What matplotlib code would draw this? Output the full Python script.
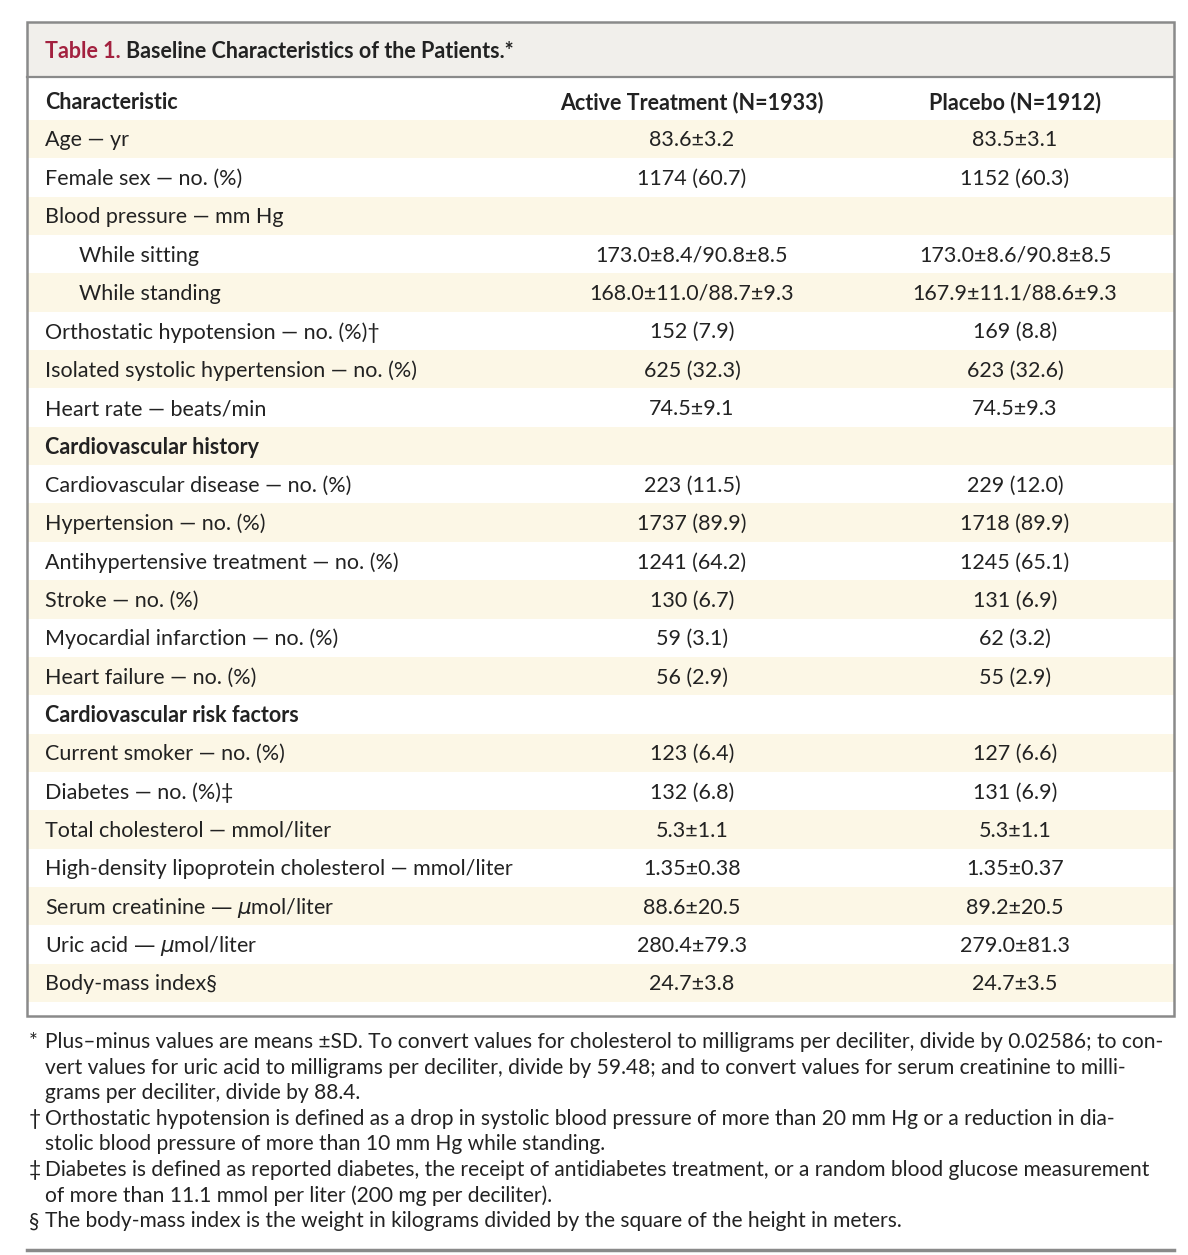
import matplotlib
matplotlib.use("Agg")
import matplotlib.pyplot as plt
from matplotlib.patches import Rectangle
from matplotlib import font_manager

W, H = 1188, 1255

# ---- table content ----
TITLE_NUM = "Table 1."
TITLE_TEXT = "Baseline Characteristics of the Patients.*"
HEADERS = ["Characteristic", "Active Treatment (N=1933)", "Placebo (N=1912)"]

labels = [
    "Age — yr",
    "Female sex — no. (%)",
    "Blood pressure — mm Hg",
    "While sitting",
    "While standing",
    "Orthostatic hypotension — no. (%)†",
    "Isolated systolic hypertension — no. (%)",
    "Heart rate — beats/min",
    "Cardiovascular history",
    "Cardiovascular disease — no. (%)",
    "Hypertension — no. (%)",
    "Antihypertensive treatment — no. (%)",
    "Stroke — no. (%)",
    "Myocardial infarction — no. (%)",
    "Heart failure — no. (%)",
    "Cardiovascular risk factors",
    "Current smoker — no. (%)",
    "Diabetes — no. (%)‡",
    "Total cholesterol — mmol/liter",
    "High-density lipoprotein cholesterol — mmol/liter",
    "Serum creatinine — $\\mu$mol/liter",
    "Uric acid — $\\mu$mol/liter",
    "Body-mass index§",
]
active = [
    "83.6±3.2", "1174 (60.7)", "", "173.0±8.4/90.8±8.5", "168.0±11.0/88.7±9.3",
    "152 (7.9)", "625 (32.3)", "74.5±9.1", "", "223 (11.5)", "1737 (89.9)",
    "1241 (64.2)", "130 (6.7)", "59 (3.1)", "56 (2.9)", "", "123 (6.4)",
    "132 (6.8)", "5.3±1.1", "1.35±0.38", "88.6±20.5", "280.4±79.3", "24.7±3.8",
]
placebo = [
    "83.5±3.1", "1152 (60.3)", "", "173.0±8.6/90.8±8.5", "167.9±11.1/88.6±9.3",
    "169 (8.8)", "623 (32.6)", "74.5±9.3", "", "229 (12.0)", "1718 (89.9)",
    "1245 (65.1)", "131 (6.9)", "62 (3.2)", "55 (2.9)", "", "127 (6.6)",
    "131 (6.9)", "5.3±1.1", "1.35±0.37", "89.2±20.5", "279.0±81.3", "24.7±3.5",
]
indented = {"While sitting", "While standing"}
section_rows = {"Cardiovascular history", "Cardiovascular risk factors"}

footnotes = [
    ("*", ["Plus–minus values are means ±SD. To convert values for cholesterol to milligrams per deciliter, divide by 0.02586; to con-",
           "vert values for uric acid to milligrams per deciliter, divide by 59.48; and to convert values for serum creatinine to milli-",
           "grams per deciliter, divide by 88.4."]),
    ("†", ["Orthostatic hypotension is defined as a drop in systolic blood pressure of more than 20 mm Hg or a reduction in dia-",
           "stolic blood pressure of more than 10 mm Hg while standing."]),
    ("‡", ["Diabetes is defined as reported diabetes, the receipt of antidiabetes treatment, or a random blood glucose measurement",
           "of more than 11.1 mmol per liter (200 mg per deciliter)."]),
    ("§", ["The body-mass index is the weight in kilograms divided by the square of the height in meters."]),
]

# ---- fonts ----
avail = {f.name for f in font_manager.fontManager.ttflist}
main_font = next((f for f in ["Lato", "Open Sans"] if f in avail), "DejaVu Sans")
plt.rcParams["font.family"] = [main_font, "DejaVu Sans"]
plt.rcParams["mathtext.fontset"] = "dejavusans"

TXT = "#222222"
STRIPE = "#fcf7e6"
TITLE_BG = "#f1efeb"
BORDER = "#8a8a8a"

fig = plt.figure(figsize=(W / 100, H / 100), dpi=100)
ax = fig.add_axes([0, 0, 1, 1])
ax.set_xlim(0, W)
ax.set_ylim(H, 0)
ax.axis("off")

left, right, top, bottom = 27, 1174, 22, 1016
title_h = 55
row_h = 38.36
first_row = 139
c1, c2 = 692, 1015
fs = 15.5
dy = 1.5  # text baseline nudge

# title band
ax.add_patch(Rectangle((left, top), right - left, title_h, facecolor=TITLE_BG, edgecolor="none"))
ax.plot([left, right], [top + title_h, top + title_h], color=BORDER, lw=1.6)
t = ax.text(45, top + title_h / 2 + 1.5, TITLE_NUM + " ", color="#a3213f", fontsize=fs, fontweight="bold",
            va="center", ha="left")
fig.canvas.draw()
bb = t.get_window_extent()
ax.text(45 + bb.width, top + title_h / 2 + 1.5, TITLE_TEXT, color=TXT, fontsize=fs, fontweight="bold",
        va="center", ha="left")

# header row
hy = first_row - row_h + dy
ax.text(45, hy, HEADERS[0], fontsize=fs, fontweight="bold", color=TXT, va="center", ha="left")
ax.text(c1, hy, HEADERS[1], fontsize=fs, fontweight="bold", color=TXT, va="center", ha="center")
ax.text(c2, hy, HEADERS[2], fontsize=fs, fontweight="bold", color=TXT, va="center", ha="center")

# body rows
for i, lab in enumerate(labels):
    y = first_row + i * row_h
    if i % 2 == 0:
        ax.add_patch(Rectangle((left, y - row_h / 2), right - left, row_h,
                               facecolor=STRIPE, edgecolor="none", zorder=0))
    x = 79 if lab in indented else 45
    ax.text(x, y + dy, lab, fontsize=fs, color=TXT, va="center", ha="left",
            fontweight="bold" if lab in section_rows else "normal")
    ax.text(c1, y + dy, active[i], fontsize=fs, color=TXT, va="center", ha="center")
    ax.text(c2, y + dy, placebo[i], fontsize=fs, color=TXT, va="center", ha="center")

# table border
ax.add_patch(Rectangle((left, top), right - left, bottom - top, facecolor="none",
                       edgecolor=BORDER, lw=1.8, zorder=5))

# footnotes
fy = 1042
fline = 25.6
ffs = 15.1
for sym, lines in footnotes:
    ax.text(29, fy, sym, fontsize=ffs, color=TXT, va="center", ha="left")
    for ln in lines:
        ax.text(45, fy, ln, fontsize=ffs, color=TXT, va="center", ha="left")
        fy += fline

ax.plot([left, right], [1250, 1250], color=BORDER, lw=2.5)

fig.savefig("out.png", dpi=100)
